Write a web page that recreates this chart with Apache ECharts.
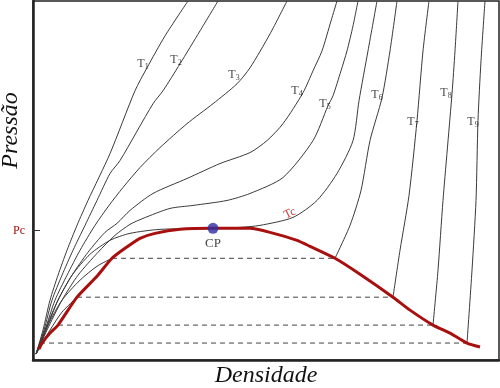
<!DOCTYPE html>
<html><head><meta charset="utf-8">
<script src="https://cdn.jsdelivr.net/npm/echarts@6.0.0/dist/echarts.min.js"></script>
<style>html,body{margin:0;padding:0;background:#fff}#c{width:500px;height:388px}</style>
</head><body><div id="c"></div>
<script>
// Data (density, pressure) in arbitrary units
const isoT1 = [[3,6],[10,30],[17,60],[25,85],[34,110],[44,135],[55,160],[77,207],[102,270],[114,293],[132,325],[155,360]];
const isoT2 = [[3,6],[11,30],[19,60],[29,85],[40,110],[52,135],[64,160],[77,187],[87,200],[120,257],[130,270],[147,297],[167,330],[185,360]];
const isoT3 = [[3,6],[12,30],[22,60],[34,85],[47,110],[62,135],[76,155],[90,173],[107,193],[127,213],[154,237],[180,257],[204,277],[217,293],[237,327],[254,360]];
const isoT4 = [[3,6],[13,30],[25,60],[39,85],[55,108],[72,128],[84,137],[97,150],[120,167],[154,182],[187,197],[217,208],[234,220],[250,237],[270,268],[280,290],[289,310],[298,340],[304,360]];
const isoT5 = [[3,6],[14,30],[29,60],[45,85],[65,108],[82,125],[97,136],[110,142],[137,152],[160,155],[194,160],[217,167],[250,183],[280,220],[295,255],[300,265],[308,290],[314,310],[320,335],[325,360]];
const isoTc = [[3,6],[12,30],[25,60],[39,85],[57,106],[77,120],[97,127],[127,131],[180,132],[207,133],[227,135],[260,143],[284,160],[304,187],[320,220],[326,260],[335,310],[344,360]];
const isoT6Vapor = [[3,6],[15,35],[29,60],[47,80],[64,94],[79,102]];
const isoT6Liquid = [[302,102],[317,135],[328,170],[337,220],[349,263],[357,310],[364,360]];
const isoT7Vapor = [[3,6],[17,30],[29,48],[44,63]];
const isoT7Liquid = [[360,63],[367,110],[376,165],[384,240],[390,310],[396,360]];
const isoT8Vapor = [[3,6],[12,20],[25,35]];
const isoT8Liquid = [[400,35],[405,90],[410,160],[419,267],[422,310],[425,360]];
const isoT9Vapor = [[3,6],[7,17]];
const isoT9Liquid = [[434,17],[439,90],[443,160],[445,240],[448,300],[452,360]];
const tieLines = [[[79,102],[302,102]],[[44,63],[360,63]],[[25,35],[400,35]],[[7,17],[434,17]]];
const coexistence = [[6,11],[9,17],[17,27],[25,35],[44,63],[64,84],[79,102],[92,112],[107,122],[122,127],[147,131],[180,132],[217,132],[237,128],[264,120],[277,114],[302,102],[327,86],[360,63],[377,50],[400,35],[417,27],[434,17],[447,13]];
const criticalPoint = [180,132];
const PC = 130;
const isoLabels = [['1',[110,297]],['2',[143,301]],['3',[201,286]],['4',[264,270]],['5',[292,257]],['6',[344,266]],['7',[380,239]],['8',[413,268]],['9',[440,239]]];
const tcLabel = [257,147];

const grey = '#3a3a3a';
const red = '#a80f0f';
const serif = '"Liberation Serif","DejaVu Serif",serif';

const series = [];
function iso(d){
  series.push({type:'line',data:d,showSymbol:false,smooth:0.25,silent:true,z:2,
    lineStyle:{color:grey,width:1}});
}
[isoT1,isoT2,isoT3,isoT4,isoT5,isoTc,isoT6Vapor,isoT6Liquid,isoT7Vapor,isoT7Liquid,isoT8Vapor,isoT8Liquid,isoT9Vapor,isoT9Liquid].forEach(iso);
tieLines.forEach(d=>series.push({type:'line',data:d,showSymbol:false,silent:true,z:2,
  lineStyle:{color:'#444',width:1,type:[5,4]}}));
series.push({type:'line',data:coexistence,showSymbol:false,smooth:0.2,silent:true,z:3,
  lineStyle:{color:red,width:3}});
series.push({type:'scatter',data:[criticalPoint],symbolSize:11,z:5,silent:true,
  itemStyle:{color:'#2e2ea0'},
  label:{show:true,position:'bottom',distance:3,formatter:'CP',color:'#111',fontFamily:serif,fontSize:13}});
series.push({type:'scatter',data:isoLabels.map(l=>({value:l[1],name:l[0]})),symbolSize:0,z:6,silent:true,
  label:{show:true,position:'inside',color:'#111',fontFamily:serif,
    formatter:p=>'{t|T}{s|'+p.name+'}',
    rich:{t:{fontSize:12,fontFamily:serif,color:'#111'},s:{fontSize:8,fontFamily:serif,color:'#111',padding:[6,0,0,0]}}}});
series.push({type:'scatter',data:[tcLabel],symbolSize:0,z:6,silent:true,
  label:{show:true,position:'inside',rotate:25,formatter:'Tc',color:'#c01010',fontFamily:serif,fontSize:12}});

const chart = echarts.init(document.getElementById('c'),null,{renderer:'canvas'});
chart.setOption({
  animation:false,
  backgroundColor:'#fff',
  grid:{left:33,right:1,top:1,bottom:28,show:true,borderColor:'#222',borderWidth:1.5,containLabel:false,outerBoundsMode:'none'},
  xAxis:{type:'value',min:0,max:466,splitLine:{show:false},axisTick:{show:false},axisLabel:{show:false},
    axisLine:{lineStyle:{color:'#222',width:2.5}},
    name:'Densidade',nameLocation:'middle',nameGap:4,nameMoveOverlap:false,
    nameTextStyle:{fontFamily:serif,fontStyle:'italic',fontSize:24,color:'#111'}},
  yAxis:{type:'value',min:0,max:360,splitLine:{show:false},
    axisLine:{show:true,lineStyle:{color:'#222',width:2.5}},
    axisTick:{show:true,inside:true,length:7,customValues:[PC],lineStyle:{color:'#333',width:1}},
    axisLabel:{show:true,customValues:[PC],formatter:()=>'Pc',color:'#a01010',fontFamily:serif,fontSize:12,margin:8},
    name:'Pressão',nameLocation:'middle',nameGap:10,nameRotate:90,nameMoveOverlap:false,
    nameTextStyle:{fontFamily:serif,fontStyle:'italic',fontSize:24,color:'#111',padding:[0,0,0,100]}},
  series:series
});
</script></body></html>
